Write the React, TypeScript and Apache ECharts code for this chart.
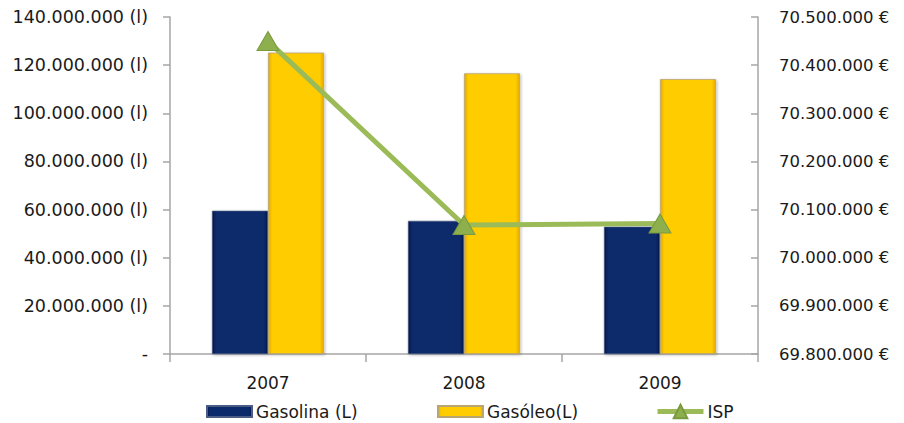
import React, { useEffect, useRef } from "react";
import * as echarts from "echarts";

const years = ["2007", "2008", "2009"];
const gasolina = [59500000, 55300000, 52900000];
const gasoleo = [125200000, 116600000, 114200000];
const isp = [70450000, 70068000, 70071000];

const FONT = "DejaVu Sans";

function fmtThousands(v: number): string {
  return Math.round(v)
    .toString()
    .replace(/\B(?=(\d{3})+(?!\d))/g, ".");
}

// Horizontal gradient giving the bars a bevelled look
const bevel = (edge: string, mid: string) =>
  new echarts.graphic.LinearGradient(0, 0, 1, 0, [
    { offset: 0, color: edge },
    { offset: 0.07, color: mid },
    { offset: 0.93, color: mid },
    { offset: 1, color: edge },
  ]);

export default function App() {
  const ref = useRef<HTMLDivElement>(null);

  useEffect(() => {
    if (!ref.current) return;
    const chart = echarts.init(ref.current, null, { renderer: "svg" });
    const axisColor = "#a6a6a6";
    const labelStyle = { color: "#1a1a1a", fontFamily: FONT, fontSize: 17 };
    const legendBase = {
      top: 398,
      itemWidth: 45,
      itemHeight: 11,
      itemGap: 0,
      textStyle: { ...labelStyle, padding: [0, 0, 0, -1] },
    };
    chart.setOption({
      animation: false,
      grid: { left: 170, right: 146, top: 17, bottom: 69, containLabel: false },
      legend: [
        { ...legendBase, data: [{ name: "Gasolina (L)", icon: "rect" }], left: 201 },
        { ...legendBase, data: [{ name: "Gasóleo(L)", icon: "rect" }], left: 432 },
        {
          ...legendBase,
          data: [{ name: "ISP" }],
          left: 650,
          itemWidth: 46,
          itemHeight: 17,
          top: 398,
          lineStyle: { width: 5, color: "#9bbb59" },
        },
      ],
      xAxis: {
        type: "category",
        data: years,
        axisLine: { lineStyle: { color: axisColor, width: 1.5 } },
        axisTick: { show: true, length: 8, lineStyle: { color: axisColor, width: 1.5 } },
        axisLabel: { ...labelStyle, margin: 20 },
      },
      yAxis: [
        {
          type: "value",
          min: 0,
          max: 140000000,
          interval: 20000000,
          axisLine: { show: true, lineStyle: { color: axisColor, width: 1.5 } },
          axisTick: { show: true, length: 7, lineStyle: { color: axisColor, width: 1.5 } },
          splitLine: { show: false },
          axisLabel: {
            ...labelStyle,
            fontSize: 17.5,
            margin: 22,
            formatter: (v: number) => (v === 0 ? "-" : fmtThousands(v) + " (l)"),
          },
        },
        {
          type: "value",
          min: 69800000,
          max: 70500000,
          interval: 100000,
          position: "right",
          axisLine: { show: true, lineStyle: { color: axisColor, width: 1.5 } },
          axisTick: { show: true, length: 7, inside: true, lineStyle: { color: axisColor, width: 1.5 } },
          splitLine: { show: false },
          axisLabel: {
            ...labelStyle,
            fontSize: 16.5,
            margin: 21,
            formatter: (v: number) => fmtThousands(v) + " €",
          },
        },
      ],
      series: [
        {
          name: "Gasolina (L)",
          type: "bar",
          data: gasolina,
          barWidth: 56,
          barGap: "0%",
          itemStyle: {
            color: bevel("#03184a", "#0b2a6b"),
            borderColor: "#4b5d85",
            borderWidth: 0.6,
            shadowColor: "rgba(0,0,0,0.3)",
            shadowBlur: 3,
            shadowOffsetX: 1,
            shadowOffsetY: 1,
          },
        },
        {
          name: "Gasóleo(L)",
          type: "bar",
          data: gasoleo,
          barWidth: 56,
          barGap: "0%",
          itemStyle: {
            color: bevel("#e2a900", "#ffcc00"),
            borderColor: "#b9a572",
            borderWidth: 0.8,
            shadowColor: "rgba(0,0,0,0.3)",
            shadowBlur: 3,
            shadowOffsetX: 1,
            shadowOffsetY: 1,
          },
        },
        {
          name: "ISP",
          type: "line",
          yAxisIndex: 1,
          data: isp,
          symbol: "triangle",
          symbolSize: [22, 19],
          lineStyle: { color: "#9bbb59", width: 5 },
          itemStyle: { color: "#8db04c", borderColor: "#7a9a40", borderWidth: 1 },
          z: 5,
        },
      ],
    });
    return () => chart.dispose();
  }, []);

  return (
    <div
      ref={ref}
      style={{ position: "absolute", left: 0, top: 0, width: 904, height: 423 }}
    />
  );
}
